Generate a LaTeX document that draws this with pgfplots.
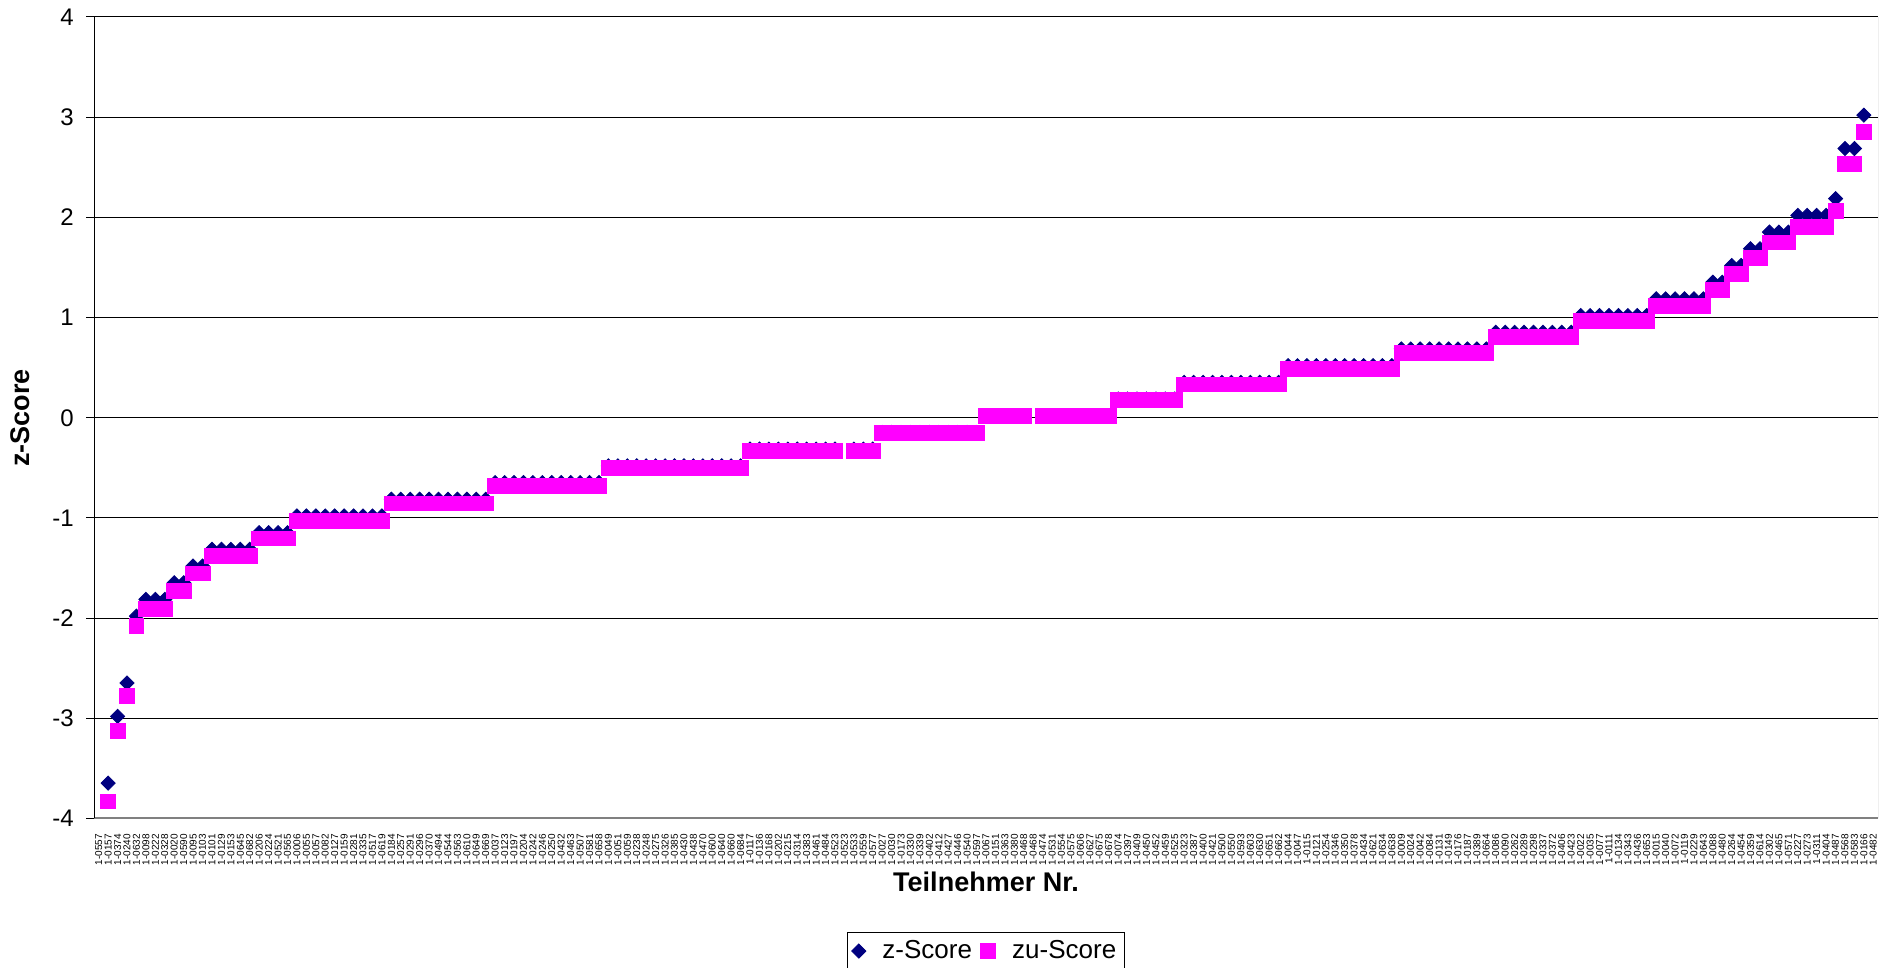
\documentclass[border=0pt]{standalone}
\usepackage{pgfplots}
\pgfplotsset{compat=1.18}
\usepackage{pgfplotstable}
\usepackage{fontspec}
\setmainfont{Liberation Sans}
\definecolor{zblue}{RGB}{0,0,128}
\definecolor{zumag}{RGB}{255,0,255}

\pgfplotstableread{
x z zu
1 -3.647 -3.829
2 -2.980 -3.129
3 -2.647 -2.779
4 -1.980 -2.079
5 -1.813 -1.904
6 -1.813 -1.904
7 -1.813 -1.904
8 -1.647 -1.729
9 -1.647 -1.729
10 -1.480 -1.554
11 -1.480 -1.554
12 -1.313 -1.379
13 -1.313 -1.379
14 -1.313 -1.379
15 -1.313 -1.379
16 -1.313 -1.379
17 -1.147 -1.204
18 -1.147 -1.204
19 -1.147 -1.204
20 -1.147 -1.204
21 -0.980 -1.029
22 -0.980 -1.029
23 -0.980 -1.029
24 -0.980 -1.029
25 -0.980 -1.029
26 -0.980 -1.029
27 -0.980 -1.029
28 -0.980 -1.029
29 -0.980 -1.029
30 -0.980 -1.029
31 -0.813 -0.854
32 -0.813 -0.854
33 -0.813 -0.854
34 -0.813 -0.854
35 -0.813 -0.854
36 -0.813 -0.854
37 -0.813 -0.854
38 -0.813 -0.854
39 -0.813 -0.854
40 -0.813 -0.854
41 -0.813 -0.854
42 -0.647 -0.679
43 -0.647 -0.679
44 -0.647 -0.679
45 -0.647 -0.679
46 -0.647 -0.679
47 -0.647 -0.679
48 -0.647 -0.679
49 -0.647 -0.679
50 -0.647 -0.679
51 -0.647 -0.679
52 -0.647 -0.679
53 -0.647 -0.679
54 -0.480 -0.504
55 -0.480 -0.504
56 -0.480 -0.504
57 -0.480 -0.504
58 -0.480 -0.504
59 -0.480 -0.504
60 -0.480 -0.504
61 -0.480 -0.504
62 -0.480 -0.504
63 -0.480 -0.504
64 -0.480 -0.504
65 -0.480 -0.504
66 -0.480 -0.504
67 -0.480 -0.504
68 -0.480 -0.504
69 -0.313 -0.329
70 -0.313 -0.329
71 -0.313 -0.329
72 -0.313 -0.329
73 -0.313 -0.329
74 -0.313 -0.329
75 -0.313 -0.329
76 -0.313 -0.329
77 -0.313 -0.329
78 -0.313 -0.329
80 -0.313 -0.329
81 -0.313 -0.329
82 -0.313 -0.329
83 -0.147 -0.154
84 -0.147 -0.154
85 -0.147 -0.154
86 -0.147 -0.154
87 -0.147 -0.154
88 -0.147 -0.154
89 -0.147 -0.154
90 -0.147 -0.154
91 -0.147 -0.154
92 -0.147 -0.154
93 -0.147 -0.154
94 0.020 0.019
95 0.020 0.019
96 0.020 0.019
97 0.020 0.019
98 0.020 0.019
100 0.020 0.019
101 0.020 0.019
102 0.020 0.019
103 0.020 0.019
104 0.020 0.019
105 0.020 0.019
106 0.020 0.019
107 0.020 0.019
108 0.187 0.176
109 0.187 0.176
110 0.187 0.176
111 0.187 0.176
112 0.187 0.176
113 0.187 0.176
114 0.187 0.176
115 0.353 0.333
116 0.353 0.333
117 0.353 0.333
118 0.353 0.333
119 0.353 0.333
120 0.353 0.333
121 0.353 0.333
122 0.353 0.333
123 0.353 0.333
124 0.353 0.333
125 0.353 0.333
126 0.520 0.491
127 0.520 0.491
128 0.520 0.491
129 0.520 0.491
130 0.520 0.491
131 0.520 0.491
132 0.520 0.491
133 0.520 0.491
134 0.520 0.491
135 0.520 0.491
136 0.520 0.491
137 0.520 0.491
138 0.687 0.648
139 0.687 0.648
140 0.687 0.648
141 0.687 0.648
142 0.687 0.648
143 0.687 0.648
144 0.687 0.648
145 0.687 0.648
146 0.687 0.648
147 0.687 0.648
148 0.853 0.806
149 0.853 0.806
150 0.853 0.806
151 0.853 0.806
152 0.853 0.806
153 0.853 0.806
154 0.853 0.806
155 0.853 0.806
156 0.853 0.806
157 1.020 0.963
158 1.020 0.963
159 1.020 0.963
160 1.020 0.963
161 1.020 0.963
162 1.020 0.963
163 1.020 0.963
164 1.020 0.963
165 1.187 1.120
166 1.187 1.120
167 1.187 1.120
168 1.187 1.120
169 1.187 1.120
170 1.187 1.120
171 1.353 1.278
172 1.353 1.278
173 1.520 1.435
174 1.520 1.435
175 1.687 1.592
176 1.687 1.592
177 1.853 1.750
178 1.853 1.750
179 1.853 1.750
180 2.020 1.907
181 2.020 1.907
182 2.020 1.907
183 2.020 1.907
184 2.187 2.064
185 2.687 2.536
186 2.687 2.536
187 3.020 2.851
}\data

\begin{document}
\begin{tikzpicture}
\path[use as bounding box] (0,0) rectangle (942.5pt,484pt);
\begin{axis}[
  at={(47pt,74.75pt)}, anchor=south west,
  scale only axis, width=892pt, height=400.75pt,
  xmin=-0.5, xmax=188.5, ymin=-4, ymax=4,
  axis lines*=left,
  x axis line style={draw=gray, line width=1pt},
  y axis line style={draw=black, line width=0.5pt},
  ytick={-4,-3,-2,-1,0,1,2,3,4},
  yticklabels={-4,-3,-2,-1,0,1,2,3,4},
  ymajorgrids, grid style={black, line width=0.5pt},
  tick align=outside, major tick length=4pt,
  ytick style={black, line width=0.5pt},
  xtick style={draw=none},
  yticklabel style={font=\fontsize{12}{14}\selectfont, inner sep=0pt, xshift=-6pt},
  xtick={0,...,188},
  xticklabels={1-0557,1-0157,1-0374,1-0240,1-0632,1-0098,1-0222,1-0328,1-0020,1-0590,
1-0095,1-0103,1-0101,1-0129,1-0153,1-0645,1-0682,1-0206,1-0224,1-0521,
1-0565,1-0006,1-0055,1-0057,1-0082,1-0127,1-0159,1-0281,1-0335,1-0517,
1-0619,1-0184,1-0257,1-0291,1-0296,1-0370,1-0494,1-0544,1-0563,1-0610,
1-0649,1-0669,1-0037,1-0123,1-0197,1-0204,1-0242,1-0246,1-0250,1-0432,
1-0463,1-0507,1-0581,1-0658,1-0049,1-0051,1-0059,1-0238,1-0248,1-0275,
1-0326,1-0385,1-0430,1-0438,1-0470,1-0600,1-0640,1-0660,1-0684,1-0117,
1-0136,1-0168,1-0202,1-0215,1-0314,1-0383,1-0461,1-0484,1-0523,1-0523,
1-0533,1-0559,1-0577,1-0027,1-0030,1-0173,1-0330,1-0339,1-0402,1-0412,
1-0427,1-0446,1-0540,1-0597,1-0067,1-0151,1-0363,1-0380,1-0468,1-0468,
1-0474,1-0531,1-0554,1-0575,1-0606,1-0627,1-0675,1-0678,1-0074,1-0397,
1-0409,1-0450,1-0452,1-0459,1-0525,1-0323,1-0387,1-0400,1-0421,1-0500,
1-0550,1-0593,1-0603,1-0630,1-0651,1-0662,1-0044,1-0047,1-0115,1-0121,
1-0254,1-0346,1-0350,1-0378,1-0434,1-0621,1-0634,1-0638,1-0009,1-0024,
1-0042,1-0084,1-0131,1-0149,1-0176,1-0187,1-0389,1-0664,1-0086,1-0090,
1-0262,1-0289,1-0298,1-0337,1-0372,1-0406,1-0423,1-0022,1-0035,1-0077,
1-0111,1-0134,1-0343,1-0436,1-0653,1-0015,1-0040,1-0072,1-0119,1-0229,
1-0643,1-0088,1-0480,1-0264,1-0454,1-0359,1-0614,1-0302,1-0465,1-0571,
1-0227,1-0273,1-0311,1-0404,1-0487,1-0568,1-0583,1-0166,1-0482},
  xticklabel style={rotate=90, anchor=east, font=\fontsize{5}{6}\selectfont, inner sep=0pt},
  xticklabel shift=3.5pt,
  xlabel={Teilnehmer Nr.},
  ylabel={z-Score},
  every axis x label/.style={at={(axis description cs:0.5,-0.0789)}, anchor=center, font=\fontsize{13.5}{16}\selectfont\bfseries},
  every axis y label/.style={at={(axis description cs:-0.0415,0.5)}, anchor=center, rotate=90, font=\fontsize{13.5}{16}\selectfont\bfseries},
  legend columns=2,
  legend style={at={(axis description cs:0.5,0)}, anchor=north, yshift=-56.75pt,
    draw=black, line width=0.5pt, font=\fontsize{13}{15}\selectfont,
    inner xsep=2pt, inner ysep=2pt,
    /tikz/every odd column/.append style={column sep=6.3pt},
    /tikz/every even column/.append style={column sep=2.4pt}},
  legend image code/.code={\draw[mark repeat=2,mark phase=2,#1] plot coordinates {(0cm,0cm)(0.15cm,0cm)(0.45cm,0cm)};},
]
\addplot[only marks, mark=square*, mark size=2.5pt, mark options={rotate=45, draw=zblue, fill=zblue, line width=0.4pt}] table[x=x, y=z] {\data};
\addlegendentry{z-Score}
\addplot[only marks, mark=square*, mark size=3.7pt, mark options={draw=zumag, fill=zumag, line width=0.4pt}] table[x=x, y=zu] {\data};
\addlegendentry{zu-Score}
\draw[gray, line width=0.5pt] (rel axis cs:1,0) -- (rel axis cs:1,1);
\end{axis}
\end{tikzpicture}
\end{document}
